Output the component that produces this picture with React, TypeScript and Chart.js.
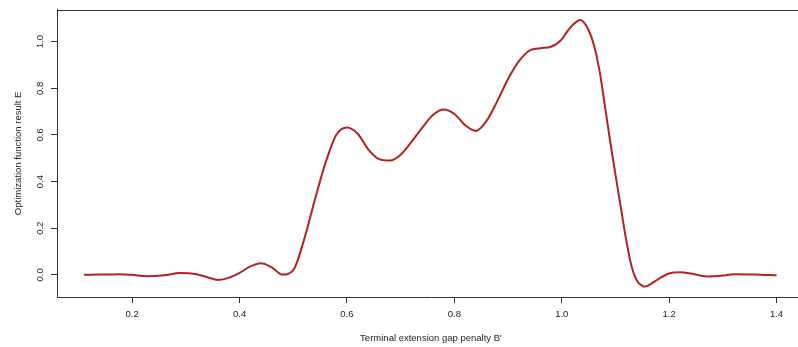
import React, { useEffect, useRef } from "react";
import { Chart, registerables } from "chart.js";

Chart.register(...registerables);

const xValues = [
  0.11, 0.14, 0.177, 0.2, 0.227, 0.26, 0.289, 0.32, 0.34, 0.36, 0.38, 0.4, 0.42, 0.44,
  0.46, 0.48, 0.5, 0.52, 0.54, 0.56, 0.58, 0.6, 0.62, 0.64, 0.66, 0.68, 0.7, 0.72,
  0.74, 0.76, 0.78, 0.8, 0.82, 0.84, 0.86, 0.88, 0.9, 0.92, 0.94, 0.96, 0.98, 1.0,
  1.01, 1.02, 1.03, 1.035, 1.04, 1.05, 1.06, 1.07, 1.08, 1.09, 1.1, 1.11, 1.12, 1.13, 1.14,
  1.15, 1.155, 1.16, 1.18, 1.2, 1.22, 1.24, 1.27, 1.3, 1.32, 1.36, 1.4,
];
const yValues = [
  0.0, 0.001, 0.003, 0.0, -0.006, -0.002, 0.008, 0.003, -0.01, -0.022, -0.013, 0.008, 0.036, 0.05,
  0.032, 0.001, 0.02, 0.15, 0.32, 0.48, 0.6, 0.632, 0.605, 0.537, 0.496, 0.49, 0.515, 0.57,
  0.63, 0.685, 0.709, 0.69, 0.642, 0.617, 0.66, 0.745, 0.84, 0.915, 0.962, 0.972, 0.978, 1.01,
  1.043, 1.07, 1.089, 1.093, 1.086, 1.05, 0.985, 0.88, 0.73, 0.575, 0.43, 0.29, 0.15, 0.037, -0.025,
  -0.047, -0.05, -0.047, -0.018, 0.006, 0.011, 0.006, -0.007, -0.003, 0.003, 0.002, -0.002,
];
const xTicks = [0.2, 0.4, 0.6, 0.8, 1.0, 1.2, 1.4];
const yTicks = [0.0, 0.2, 0.4, 0.6, 0.8, 1.0];
const xTitle = "Terminal extension gap penalty B'";
const yTitle = "Optimization function result E";

const FONT = { family: "'Liberation Sans', Arial, sans-serif", size: 9.5 };
const TEXT = "#222";
const LINE = "#333";

const boxPlugin = {
  id: "box",
  afterDraw(chart: any) {
    const { ctx, chartArea } = chart;
    const { left, top, right, bottom } = chartArea;
    ctx.save();
    ctx.strokeStyle = LINE;
    ctx.lineWidth = 1;
    ctx.beginPath();
    ctx.moveTo(left, Math.round(top) + 0.5);
    ctx.lineTo(right, Math.round(top) + 0.5);
    ctx.moveTo(Math.round(right) - 0.5, top);
    ctx.lineTo(Math.round(right) - 0.5, bottom);
    ctx.stroke();
    ctx.restore();
  },
};

export default function App() {
  const ref = useRef<HTMLCanvasElement | null>(null);
  useEffect(() => {
    document.body.style.margin = "0";
    if (!ref.current) return;
    const chart = new Chart(ref.current, {
      type: "line",
      data: {
        datasets: [
          {
            data: xValues.map((x, i) => ({ x, y: yValues[i] })),
            borderColor: "#B22222",
            borderWidth: 2,
            pointRadius: 0,
            cubicInterpolationMode: "monotone",
            fill: false,
          },
        ],
      },
      options: {
        animation: false,
        responsive: false,
        devicePixelRatio: 1,
        layout: { padding: { left: 0, top: 6, right: 7, bottom: 0 } },
        plugins: { legend: { display: false }, tooltip: { enabled: false } },
        scales: {
          x: {
            type: "linear",
            min: 0.06,
            max: 1.453,
            afterBuildTicks: (s: any) => {
              s.ticks = xTicks.map((v) => ({ value: v }));
            },
            afterFit: (s: any) => {
              s.height = 50;
            },
            grid: { drawOnChartArea: false, drawTicks: true, tickLength: 6, color: LINE },
            border: { display: true, color: LINE },
            ticks: {
              font: FONT,
              color: TEXT,
              padding: 6,
              maxRotation: 0,
              autoSkip: false,
              callback: (v: any) => Number(v).toFixed(1),
            },
            title: { display: true, text: xTitle, font: FONT, color: TEXT, padding: { top: 0, bottom: 3 } },
          },
          y: {
            type: "linear",
            min: -0.095,
            max: 1.137,
            afterBuildTicks: (s: any) => {
              s.ticks = yTicks.map((v) => ({ value: v }));
            },
            afterFit: (s: any) => {
              s.width = 57;
            },
            grid: { drawOnChartArea: false, drawTicks: true, tickLength: 6, color: LINE },
            border: { display: true, color: LINE },
            ticks: {
              font: FONT,
              color: TEXT,
              padding: 4,
              minRotation: 90,
              maxRotation: 90,
              crossAlign: "center",
              autoSkip: false,
              callback: (v: any) => Number(v).toFixed(1),
            },
            title: { display: true, text: yTitle, font: FONT, color: TEXT, padding: { top: 13, bottom: 0 } },
          },
        },
      },
      plugins: [boxPlugin],
    } as any);
    return () => chart.destroy();
  }, []);
  return (
    <div style={{ width: 798, height: 347, overflow: "hidden", position: "relative" }}>
      <canvas ref={ref} width={812} height={347} style={{ display: "block" }} />
    </div>
  );
}
